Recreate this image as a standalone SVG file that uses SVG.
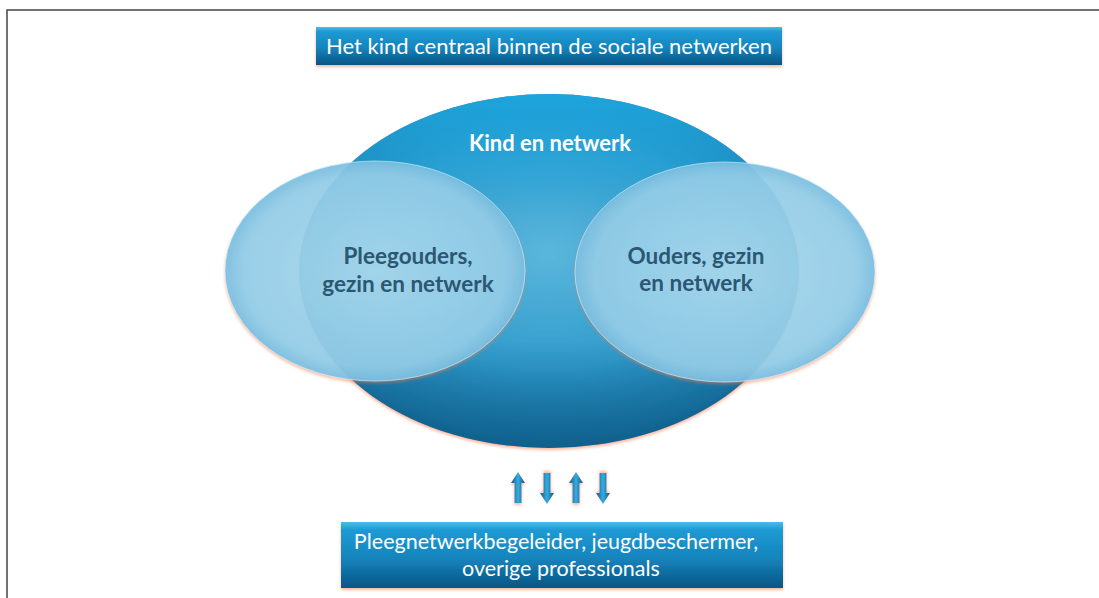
<svg xmlns="http://www.w3.org/2000/svg" width="1099" height="598" viewBox="0 0 1099 598">
  <defs>
    <linearGradient id="boxGrad" x1="0" y1="0" x2="0" y2="1">
      <stop offset="0" stop-color="#4cbbe6"/>
      <stop offset="0.12" stop-color="#1e9ad4"/>
      <stop offset="0.55" stop-color="#1584bd"/>
      <stop offset="1" stop-color="#0a5584"/>
    </linearGradient>
    <radialGradient id="bigGrad" cx="0.5" cy="0.45" r="0.6">
      <stop offset="0" stop-color="#5ab6dc"/>
      <stop offset="0.55" stop-color="#309bcb"/>
      <stop offset="0.85" stop-color="#1c7aab"/>
      <stop offset="1" stop-color="#0f5a84"/>
    </radialGradient>
    <linearGradient id="bigTop" x1="0" y1="0" x2="0" y2="1">
      <stop offset="0" stop-color="#1ca6de" stop-opacity="0.95"/>
      <stop offset="0.35" stop-color="#1ca6de" stop-opacity="0"/>
      <stop offset="0.7" stop-color="#0f5f8a" stop-opacity="0"/>
      <stop offset="1" stop-color="#0d5a85" stop-opacity="0.7"/>
    </linearGradient>
    <radialGradient id="sideGrad" cx="0.5" cy="0.5" r="0.55">
      <stop offset="0" stop-color="#a2dcf2" stop-opacity="0.88"/>
      <stop offset="0.8" stop-color="#88cfec" stop-opacity="0.88"/>
      <stop offset="1" stop-color="#5cb3dc" stop-opacity="0.92"/>
    </radialGradient>
    <linearGradient id="arrowGrad" x1="0" y1="0" x2="1" y2="0">
      <stop offset="0" stop-color="#0b5586"/>
      <stop offset="0.5" stop-color="#36aee0"/>
      <stop offset="1" stop-color="#0b5586"/>
    </linearGradient>
    <filter id="shadow" x="-10%" y="-10%" width="120%" height="130%">
      <feDropShadow dx="0" dy="2" stdDeviation="1.5" flood-color="#f07a4a" flood-opacity="0.55"/>
    </filter>
    <path id="arrowUp" d="M0,-16 L7,-5 L3.5,-5 L3.5,15 L-3.5,15 L-3.5,-5 L-7,-5 Z"/>
  </defs>
  <style>
    .frame { fill: none; stroke: #444; stroke-width: 1.5; }
    .box { fill: url(#boxGrad); filter: url(#shadow); }
    .white { fill: #ffffff; font-family: "Lato", "Liberation Sans", sans-serif; text-anchor: middle; }
    .dark { fill: #2b5773; font-family: "Lato", "Liberation Sans", sans-serif; font-weight: bold; text-anchor: middle; font-size: 22.5px; }
    .side { fill: url(#sideGrad); filter: url(#shadow); stroke: #d6eff8; stroke-width: 1; stroke-opacity: 0.6; }
    .arrow { fill: url(#arrowGrad); filter: url(#shadow); }
  </style>

  <rect x="7" y="10" width="1110" height="610" class="frame"/>

  <g id="title">
    <rect x="316" y="27" width="466" height="38" class="box"/>
    <text x="549" y="54" class="white" font-size="22">Het kind centraal binnen de sociale netwerken</text>
  </g>

  <g id="kind-en-netwerk">
    <ellipse cx="549" cy="271" rx="250" ry="177" fill="url(#bigGrad)" filter="url(#shadow)"/>
    <ellipse cx="549" cy="271" rx="250" ry="177" fill="url(#bigTop)"/>
    <text x="550" y="151" class="white" font-size="22" font-weight="bold">Kind en netwerk</text>
  </g>

  <g id="pleegouders">
    <ellipse cx="375" cy="271" rx="150" ry="110" class="side"/>
    <text class="dark"><tspan x="408" y="264">Pleegouders,</tspan><tspan x="408" y="292">gezin en netwerk</tspan></text>
  </g>

  <g id="ouders">
    <ellipse cx="725" cy="272" rx="150" ry="110" class="side"/>
    <text class="dark"><tspan x="696" y="264">Ouders, gezin</tspan><tspan x="696" y="291">en netwerk</tspan></text>
  </g>

  <g id="connectors">
    <use href="#arrowUp" class="arrow" transform="translate(518,488)"/>
    <use href="#arrowUp" class="arrow" transform="translate(547,488) rotate(180)"/>
    <use href="#arrowUp" class="arrow" transform="translate(576,488)"/>
    <use href="#arrowUp" class="arrow" transform="translate(603,488) rotate(180)"/>
  </g>

  <g id="professionals">
    <rect x="341" y="522" width="442" height="66" class="box"/>
    <text class="white" font-size="21.5"><tspan x="556" y="549">Pleegnetwerkbegeleider, jeugdbeschermer,</tspan><tspan x="561" y="576">overige professionals</tspan></text>
  </g>
</svg>
